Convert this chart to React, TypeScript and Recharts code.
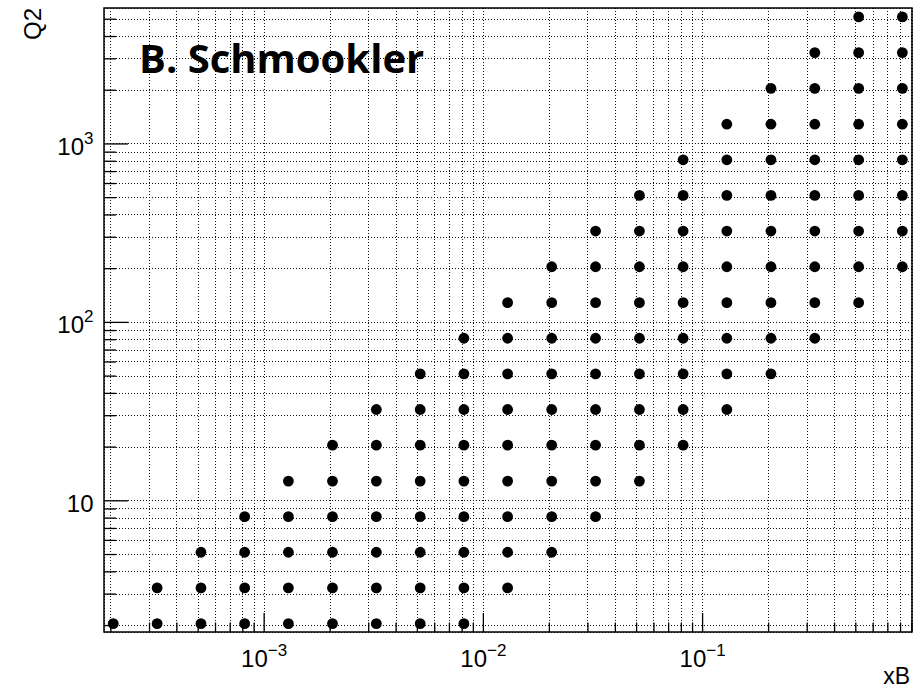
import React from 'react';
import { ScatterChart, Scatter, XAxis, YAxis, CartesianGrid, ReferenceArea } from 'recharts';

// bin centres of the kinematic grid
const xBins = [
  2.05e-4, 3.25e-4, 5.15e-4, 8.15e-4, 1.29e-3, 2.05e-3, 3.25e-3, 5.15e-3, 8.15e-3, 0.0129,
  0.0205, 0.0325, 0.0515, 0.0815, 0.129, 0.205, 0.325, 0.515, 0.815,
];
const q2Bins = [
  2.05, 3.25, 5.15, 8.15, 12.9, 20.5, 32.5, 51.5, 81.5, 129, 205, 325, 515, 815, 1290, 2050,
  3250, 5150,
];
// for each Q2 row: first and last filled xB bin
const rowFirstBin = [0, 1, 2, 3, 4, 5, 6, 7, 8, 9, 10, 11, 12, 13, 14, 15, 16, 17];
const rowLastBin = [8, 9, 10, 11, 12, 13, 14, 15, 16, 17, 18, 18, 18, 18, 18, 18, 18, 18];

const xTicks = [
  2e-4, 3e-4, 4e-4, 5e-4, 6e-4, 7e-4, 8e-4, 9e-4,
  1e-3, 2e-3, 3e-3, 4e-3, 5e-3, 6e-3, 7e-3, 8e-3, 9e-3,
  1e-2, 2e-2, 3e-2, 4e-2, 5e-2, 6e-2, 7e-2, 8e-2, 9e-2,
  0.1, 0.2, 0.3, 0.4, 0.5, 0.6, 0.7, 0.8, 0.9,
];
const yTicks = [
  2, 3, 4, 5, 6, 7, 8, 9,
  10, 20, 30, 40, 50, 60, 70, 80, 90,
  100, 200, 300, 400, 500, 600, 700, 800, 900,
  1000, 2000, 3000, 4000, 5000,
];
const xMajor = [1e-3, 1e-2, 1e-1];
const yMajor = [10, 100, 1000];

const X_DOMAIN: [number, number] = [1.86e-4, 0.902];
const Y_DOMAIN: [number, number] = [1.84, 5780];

const FONT = "'Liberation Sans', Arial, sans-serif";

const points = q2Bins.flatMap((q2, j) =>
  xBins.slice(rowFirstBin[j], rowLastBin[j] + 1).map((xB) => ({ xB, q2 }))
);

const exponent = (v: number) => Math.round(Math.log10(v));

const XTick = (props: any) => {
  const { x, y, payload } = props;
  const v = payload.value;
  const major = xMajor.includes(v);
  return (
    <g>
      <line x1={x} x2={x} y1={y} y2={y - (major ? 19 : 9.5)} stroke="#000" strokeWidth={1.3} />
      {major && (
        <text x={x} y={y + 35} textAnchor="middle" fontSize={24} fontFamily={FONT} fill="#000">
          10
          <tspan dy={-11} fontSize={17}>{'\u2212' + Math.abs(exponent(v))}</tspan>
        </text>
      )}
    </g>
  );
};

const YTick = (props: any) => {
  const { x, y, payload } = props;
  const v = payload.value;
  const major = yMajor.includes(v);
  const e = exponent(v);
  return (
    <g>
      <line x1={x} x2={x + (major ? 24 : 12)} y1={y} y2={y} stroke="#000" strokeWidth={1.3} />
      {major && (
        <text x={x - 10.5} y={y + 11} textAnchor="end" fontSize={24} fontFamily={FONT} fill="#000">
          10
          {e > 1 && <tspan dy={-11} fontSize={17}>{String(e)}</tspan>}
        </text>
      )}
    </g>
  );
};

const Dot = (props: any) => <circle cx={props.cx} cy={props.cy} r={5.4} fill="#000" />;

export default function App() {
  return (
    <div style={{ position: 'absolute', left: 0, top: 0, width: 914, height: 688, background: '#fff' }}>
      <ScatterChart width={914} height={688} margin={{ top: 8, right: 2, bottom: 0, left: 0 }}>
        <CartesianGrid stroke="#111" strokeWidth={1} strokeDasharray="1 2" shapeRendering="crispEdges" />
        <XAxis
          type="number"
          dataKey="xB"
          scale="log"
          domain={X_DOMAIN}
          allowDataOverflow
          ticks={xTicks}
          interval={0}
          height={56}
          axisLine={false}
          tickLine={false}
          tickSize={0}
          tickMargin={0}
          tick={<XTick />}
        />
        <YAxis
          type="number"
          dataKey="q2"
          scale="log"
          domain={Y_DOMAIN}
          allowDataOverflow
          ticks={yTicks}
          interval={0}
          width={104}
          axisLine={false}
          tickLine={false}
          tickSize={0}
          tickMargin={0}
          tick={<YTick />}
        />
        <Scatter data={points} fill="#000" shape={<Dot />} isAnimationActive={false} />
        <ReferenceArea
          x1={X_DOMAIN[0]}
          x2={X_DOMAIN[1]}
          y1={Y_DOMAIN[0]}
          y2={Y_DOMAIN[1]}
          fill="none"
          stroke="#000"
          strokeWidth={1.5}
        />
      </ScatterChart>
      <svg
        width={914}
        height={688}
        style={{ position: 'absolute', left: 0, top: 0, pointerEvents: 'none' }}
      >
        <text x={139} y={73} fontFamily="'Open Sans', sans-serif" fontWeight={700} fontSize={40} fill="#000">
          B. Schmookler
        </text>
        <text transform="translate(41,8) rotate(-90)" textAnchor="end" fontSize={24} fontFamily={FONT} fill="#000">
          Q2
        </text>
        <text x={910} y={684} textAnchor="end" fontSize={23} fontFamily={FONT} fill="#000">
          xB
        </text>
      </svg>
    </div>
  );
}
